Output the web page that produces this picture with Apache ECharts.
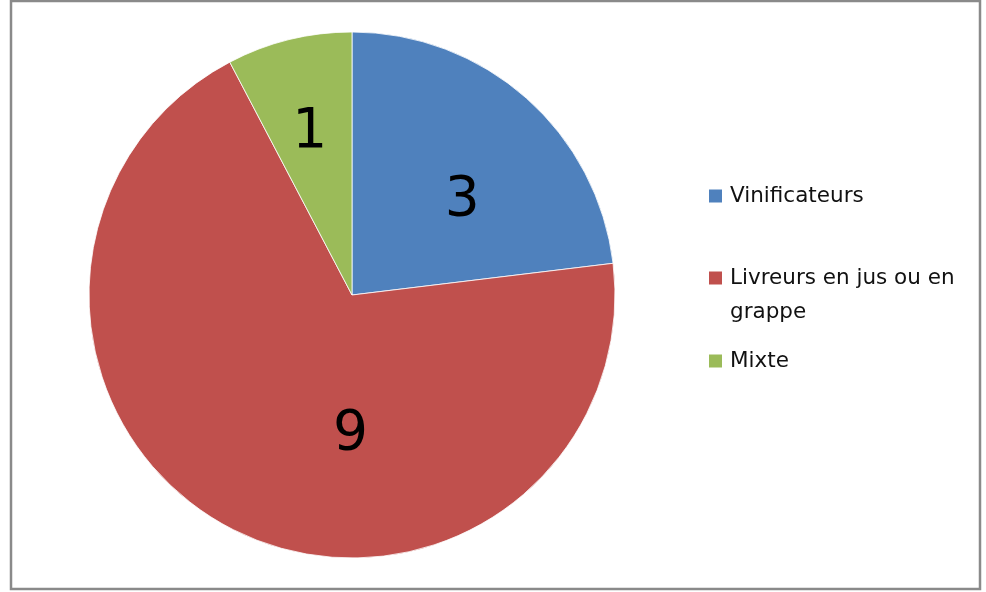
<!DOCTYPE html>
<html><head><meta charset="utf-8">
<script src="https://cdn.jsdelivr.net/npm/echarts@6/dist/echarts.min.js"></script>
<style>html,body{margin:0;padding:0;background:#fff}#c{width:986px;height:592px}</style>
</head><body><div id="c"></div>
<script>
const categories = ['Vinificateurs', 'Livreurs en jus ou en grappe', 'Mixte'];
const values = [3, 9, 1];
const colors = ['#4F81BD', '#C0504D', '#9BBB59'];
const labelShift = [[21, 6], [61, 21], [-10, -32]];

const chart = echarts.init(document.getElementById('c'), null, {renderer: 'canvas'});
const font = 'DejaVu Sans';
function legendFor(i, top, formatter) {
  return {
    data: [categories[i]], left: 707, top: top, orient: 'vertical', padding: 0,
    itemWidth: 15, itemHeight: 15, itemGap: 0, icon: 'rect', selectedMode: false,
    formatter: formatter,
    textStyle: {fontFamily: font, fontSize: 21.5, color: '#111', lineHeight: 34, padding: [0, 0, 0, 2]}
  };
}
chart.setOption({
  backgroundColor: '#fff',
  animation: false,
  color: colors,
  graphic: [{type: 'rect', shape: {x: 11, y: 1, width: 969, height: 588},
    style: {fill: 'none', stroke: '#8a8a8a', lineWidth: 2.5}, silent: true}],
  legend: [
    legendFor(0, 179),
    legendFor(1, 227, () => '\nLivreurs en jus ou en\ngrappe'),
    legendFor(2, 344)
  ],
  series: [{
    type: 'pie',
    center: [352, 295],
    radius: 263,
    startAngle: 90,
    clockwise: true,
    avoidLabelOverlap: false,
    itemStyle: {borderColor: '#fff', borderWidth: 0.8},
    label: {show: true, position: 'inside', formatter: '{c}', fontFamily: font, fontSize: 55, color: '#000'},
    labelLine: {show: false},
    labelLayout: function (p) { return {dx: labelShift[p.dataIndex][0], dy: labelShift[p.dataIndex][1]}; },
    emphasis: {disabled: true},
    data: categories.map((n, i) => ({name: n, value: values[i]}))
  }]
});
</script></body></html>
